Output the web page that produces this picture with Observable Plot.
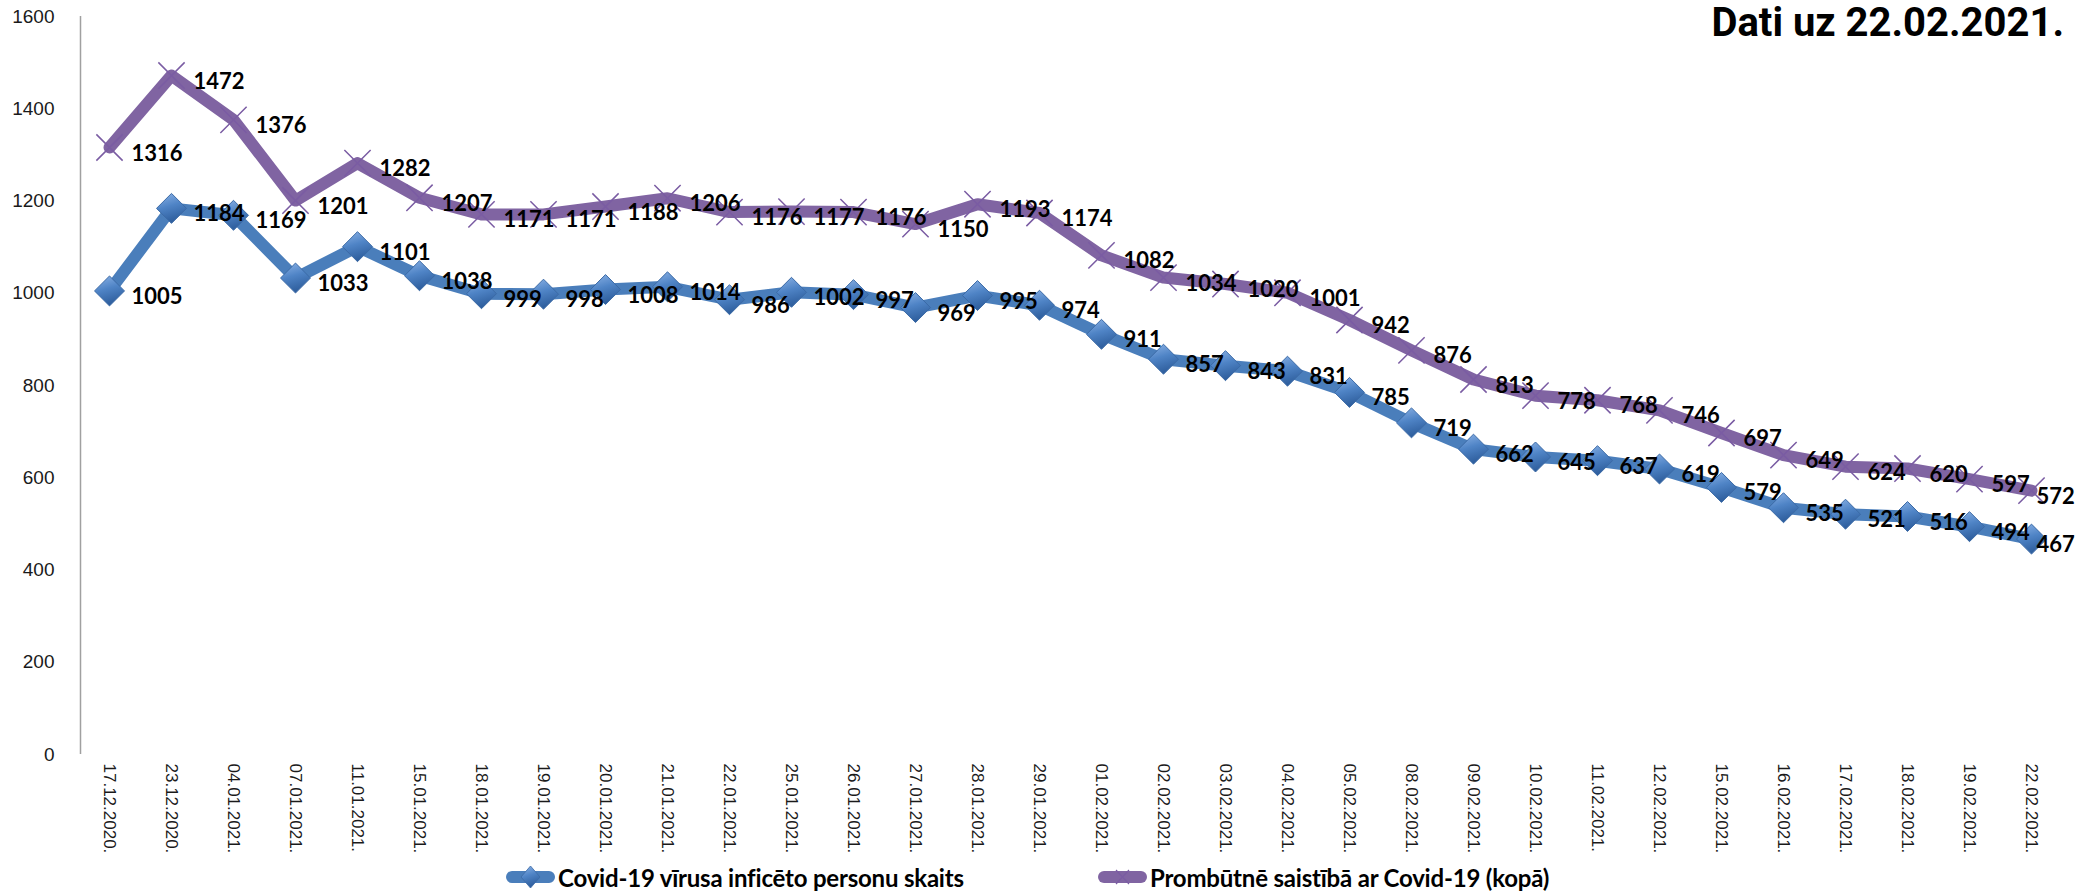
<!DOCTYPE html>
<html>
<head>
<meta charset="utf-8">
<script src="https://cdn.jsdelivr.net/npm/d3@7"></script>
<script src="https://cdn.jsdelivr.net/npm/@observablehq/plot@0.6"></script>
<style>
  html, body { margin: 0; padding: 0; background: #fff; }
  #wrap { position: relative; width: 2092px; height: 894px; overflow: hidden; background: #fff; }
  #title { position: absolute; right: 28px; top: 3px; font-family: Roboto, "Liberation Sans", sans-serif; font-weight: 700; font-size: 40px; line-height: 40px; color: #000; white-space: nowrap; }
  #legend { position: absolute; left: 0; top: 860px; width: 2092px; height: 34px; }
  .item { position: absolute; top: 0; height: 34px; display: flex; align-items: center; font-family: Lato, "Liberation Sans", sans-serif; font-weight: 700; font-size: 24px; letter-spacing: -0.2px; color: #000; white-space: nowrap; }
  .item svg { display: block; margin-right: 1px; }
</style>
</head>
<body>
<div id="wrap">
  <div id="chart"></div>
  <div id="title">Dati uz 22.02.2021.</div>
  <div id="legend"></div>
</div>
<script>
const dates = ["17.12.2020.", "23.12.2020.", "04.01.2021.", "07.01.2021.", "11.01.2021.", "15.01.2021.",
  "18.01.2021.", "19.01.2021.", "20.01.2021.", "21.01.2021.", "22.01.2021.", "25.01.2021.", "26.01.2021.",
  "27.01.2021.", "28.01.2021.", "29.01.2021.", "01.02.2021.", "02.02.2021.", "03.02.2021.", "04.02.2021.",
  "05.02.2021.", "08.02.2021.", "09.02.2021.", "10.02.2021.", "11.02.2021.", "12.02.2021.", "15.02.2021.",
  "16.02.2021.", "17.02.2021.", "18.02.2021.", "19.02.2021.", "22.02.2021."];
const infected = [1005, 1184, 1169, 1033, 1101, 1038, 999, 998, 1008, 1014, 986, 1002, 997, 969, 995, 974,
  911, 857, 843, 831, 785, 719, 662, 645, 637, 619, 579, 535, 521, 516, 494, 467];
const absent = [1316, 1472, 1376, 1201, 1282, 1207, 1171, 1171, 1188, 1206, 1176, 1177, 1176, 1150, 1193, 1174,
  1082, 1034, 1020, 1001, 942, 876, 813, 778, 768, 746, 697, 649, 624, 620, 597, 572];
const yTicks = [0, 200, 400, 600, 800, 1000, 1200, 1400, 1600];
const seriesNames = ["Covid-19 vīrusa inficēto personu skaits", "Prombūtnē saistībā ar Covid-19 (kopā)"];

const BLUE = "#4a7ebb", PURPLE = "#8064a2";
const rows = dates.map((d, i) => ({date: d, infected: infected[i], absent: absent[i], last: i === dates.length - 1}));
const notLast = rows.filter(r => !r.last);
const lastRow = rows.filter(r => r.last);

const labelStyle = {fontFamily: "Lato, 'Liberation Sans', sans-serif", fontWeight: 700, fontSize: 22, fill: "#000", textAnchor: "start"};

const chart = Plot.plot({
  width: 2092,
  height: 860,
  marginLeft: 72,
  marginRight: 25,
  marginTop: 16,
  marginBottom: 106,
  style: {background: "#fff", fontFamily: "'Liberation Sans', Arial, sans-serif", color: "#1a1a1a"},
  x: {type: "point", domain: dates, padding: 0.5, label: null},
  y: {domain: [0, 1600], label: null},
  marks: [
    Plot.axisY({ticks: yTicks, tickSize: 0, tickPadding: 18, fontSize: 19, label: null, tickFormat: d => String(d)}),
    Plot.axisX({tickSize: 0, tickRotate: 90, tickPadding: 9, fontSize: 17, label: null}),
    Plot.ruleX([dates[0]], {y1: 0, y2: 1600, dx: -29, stroke: "#a0a0a0", strokeWidth: 1.5}),
    Plot.line(rows, {x: "date", y: "absent", stroke: PURPLE, strokeWidth: 12, strokeLinejoin: "round", strokeLinecap: "round"}),
    Plot.dot(rows, {x: "date", y: "absent", symbol: "times", r: 12, stroke: "#7a5ca3", strokeWidth: 1.5}),
    Plot.line(rows, {x: "date", y: "infected", stroke: BLUE, strokeWidth: 12, strokeLinejoin: "round", strokeLinecap: "round"}),
    Plot.dot(rows, {x: "date", y: "infected", symbol: "diamond2", r: 13.5, fill: BLUE, stroke: "#3b6aa6", strokeWidth: 1, className: "bdiam"}),
    Plot.text(notLast, {x: "date", y: "absent", text: d => String(d.absent), dx: 22, dy: 6, ...labelStyle}),
    Plot.text(notLast, {x: "date", y: "infected", text: d => String(d.infected), dx: 22, dy: 6, ...labelStyle}),
    Plot.text(lastRow, {x: "date", y: "absent", text: d => String(d.absent), dx: 5, dy: 6, ...labelStyle}),
    Plot.text(lastRow, {x: "date", y: "infected", text: d => String(d.infected), dx: 5, dy: 6, ...labelStyle})
  ]
});

// gradient for 3D-looking diamonds
const svgNS = "http://www.w3.org/2000/svg";
const defs = document.createElementNS(svgNS, "defs");
defs.innerHTML = `<linearGradient id="bgrad" x1="0" y1="0" x2="0.3" y2="1">
  <stop offset="0" stop-color="#8db3e6"/><stop offset="0.5" stop-color="#4f84c6"/><stop offset="1" stop-color="#2f5f9e"/></linearGradient>`;
chart.insertBefore(defs, chart.firstChild);
d3.select(chart).selectAll("g.bdiam").attr("fill", "url(#bgrad)");
d3.select(chart).selectAll("g.bdiam path").attr("fill", "url(#bgrad)");

document.getElementById("chart").appendChild(chart);

// legend
const legend = document.getElementById("legend");
const swatches = [
  `<svg width="53" height="34"><rect x="2" y="11" width="49" height="12" rx="6" fill="${BLUE}"/>
    <path d="M26.5 6 L36 17 L26.5 28 L17 17 Z" fill="url(#lgrad)" stroke="#3b6aa6" stroke-width="0.8"/>
    <defs><linearGradient id="lgrad" x1="0" y1="0" x2="0.3" y2="1"><stop offset="0" stop-color="#8db3e6"/><stop offset="0.5" stop-color="#4f84c6"/><stop offset="1" stop-color="#2f5f9e"/></linearGradient></defs></svg>`,
  `<svg width="53" height="34"><rect x="2" y="11" width="49" height="12" rx="6" fill="${PURPLE}"/>
    <path d="M20 10 L33 24 M33 10 L20 24" stroke="#7a5ca3" stroke-width="1.2"/></svg>`
];
const lefts = [504, 1096];
seriesNames.forEach((name, i) => {
  const it = document.createElement("div");
  it.className = "item";
  it.style.left = lefts[i] + "px";
  it.innerHTML = swatches[i] + `<span>${name}</span>`;
  legend.appendChild(it);
});
</script>
</body>
</html>
